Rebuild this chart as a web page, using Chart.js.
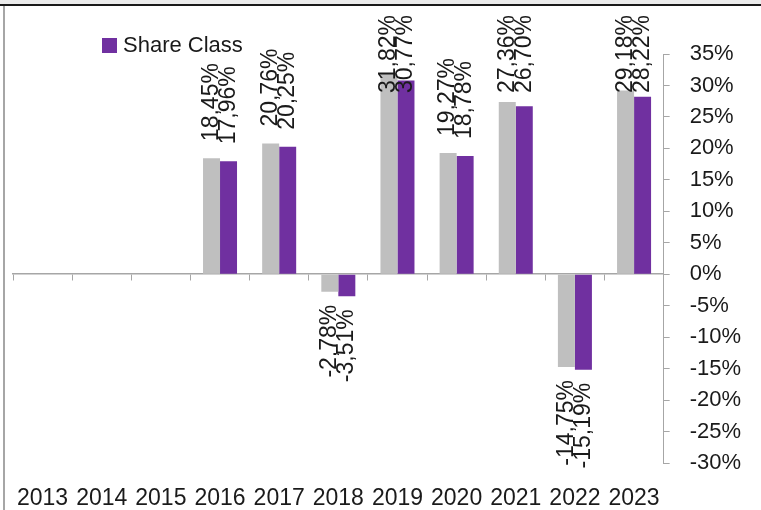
<!DOCTYPE html>
<html>
<head>
<meta charset="utf-8">
<script src="https://cdn.jsdelivr.net/npm/chart.js@4/dist/chart.umd.min.js"></script>
<style>
  html, body { margin: 0; padding: 0; background: #fff; }
  .strip { height: 4px; background: #ebebeb; border-bottom: 2px solid #1a1a1a; }
  .frame { margin-left: 3px; border-left: 2px solid #a6a6a6; width: 756px; height: 504px; }
  canvas { display: block; }
</style>
</head>
<body>
<div class="strip"></div>
<div class="frame">
  <canvas id="perfChart" width="756" height="504"></canvas>
</div>
<script>
const years = ['2013', '2014', '2015', '2016', '2017', '2018', '2019', '2020', '2021', '2022', '2023'];
const benchmark = [null, null, null, 18.45, 20.76, -2.78, 31.82, 19.27, 27.36, -14.75, 29.18];
const shareClass = [null, null, null, 17.96, 20.25, -3.51, 30.77, 18.78, 26.70, -15.19, 28.22];
const yMin = -30;
const yMax = 35;
const yStep = 5;

const FONT = "'Liberation Sans', Arial, sans-serif";
const GRAY = '#bfbfbf';
const PURPLE = '#7030a0';
const AXIS = '#a6a6a6';
const TEXT = '#1a1a1a';

function fmt(v) {
    return v.toFixed(2).replace('.', ',') + '%';
}

// rotated value labels above / below each bar
const barLabels = {
    id: 'barLabels',
    afterDatasetsDraw(chart) {
        const ctx = chart.ctx;
        ctx.save();
        ctx.font = '23px ' + FONT;
        ctx.fillStyle = TEXT;
        ctx.textBaseline = 'middle';
        chart.data.datasets.forEach((ds, i) => {
            const meta = chart.getDatasetMeta(i);
            meta.data.forEach((bar, j) => {
                const v = ds.data[j];
                if (v === null) return;
                const txt = fmt(v);
                const w = ctx.measureText(txt).width;
                ctx.save();
                if (v >= 0) {
                    let y = bar.y - 17;
                    if (y - w < 9) y = 9 + w;
                    ctx.translate(bar.x, y);
                    ctx.rotate(-Math.PI / 2);
                    ctx.textAlign = 'left';
                } else {
                    ctx.translate(bar.x, bar.y + 13);
                    ctx.rotate(-Math.PI / 2);
                    ctx.textAlign = 'right';
                }
                ctx.fillText(txt, 0, 0);
                ctx.restore();
            });
        });
        ctx.restore();
    }
};

// only the share class entry is shown, inside the plot
const shareLegend = {
    id: 'shareLegend',
    afterDraw(chart) {
        const ctx = chart.ctx;
        ctx.save();
        ctx.fillStyle = PURPLE;
        ctx.fillRect(97, 32, 15, 15);
        ctx.fillStyle = TEXT;
        ctx.font = '22px ' + FONT;
        ctx.textBaseline = 'middle';
        ctx.textAlign = 'left';
        ctx.fillText(chart.data.datasets[1].label, 118, 40);
        ctx.restore();
    }
};

new Chart(document.getElementById('perfChart'), {
    type: 'bar',
    data: {
        labels: years,
        datasets: [
            {
                label: 'Benchmark',
                data: benchmark,
                backgroundColor: GRAY,
                categoryPercentage: 0.575,
                barPercentage: 1
            },
            {
                label: 'Share Class',
                data: shareClass,
                backgroundColor: PURPLE,
                categoryPercentage: 0.575,
                barPercentage: 1
            }
        ]
    },
    options: {
        responsive: false,
        animation: false,
        layout: {
            padding: { left: 8, top: 48, right: 0, bottom: 0 }
        },
        plugins: {
            legend: { display: false },
            tooltip: { enabled: false }
        },
        scales: {
            x: {
                type: 'category',
                position: { y: 0 },
                offset: true,
                grid: {
                    offset: true,
                    drawOnChartArea: false,
                    drawTicks: true,
                    tickLength: 6,
                    color: AXIS
                },
                border: { display: true, color: AXIS, width: 1.5 },
                ticks: { display: false }
            },
            x2: {
                type: 'category',
                labels: years,
                position: 'bottom',
                offset: true,
                // invisible tick marks just push the year labels down
                grid: {
                    display: true,
                    drawOnChartArea: false,
                    drawTicks: true,
                    tickLength: 24,
                    color: 'rgba(0,0,0,0)'
                },
                border: { display: false },
                ticks: {
                    padding: 0,
                    color: TEXT,
                    font: { family: FONT, size: 23, lineHeight: 1 },
                    maxRotation: 0,
                    autoSkip: false
                }
            },
            y: {
                position: 'right',
                min: yMin,
                max: yMax,
                grid: {
                    drawOnChartArea: false,
                    drawTicks: true,
                    tickLength: 6,
                    color: AXIS
                },
                border: { display: true, color: AXIS },
                ticks: {
                    stepSize: yStep,
                    padding: 20,
                    color: TEXT,
                    font: { family: FONT, size: 22 },
                    callback: v => v + '%'
                }
            }
        }
    },
    plugins: [barLabels, shareLegend]
});
</script>
</body>
</html>
